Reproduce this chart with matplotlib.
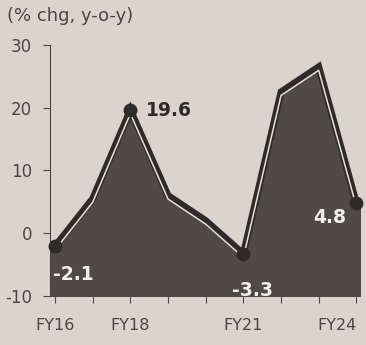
import numpy as np
import matplotlib.pyplot as plt
from matplotlib.transforms import offset_copy

plt.rcParams["axes.unicode_minus"] = False

# yearly growth, % chg y-o-y
years = ["FY16", "FY17", "FY18", "FY19", "FY20", "FY21", "FY22", "FY23", "FY24"]
growth = [-2.1, 5.5, 19.6, 6.0, 2.0, -3.3, 22.5, 26.5, 4.8]
tick_labels = ["FY16", "", "FY18", "", "", "FY21", "", "", "FY24"]

paper = "#ddd3cd"
fill_col = "#4f4a49"
line_col = "#2f2b2b"
txt = "#4a4646"

x = np.arange(len(years))
x0, x1 = -0.13, 8.1

fig = plt.figure(figsize=(3.66, 3.45), dpi=100, facecolor=paper)
ax = fig.add_axes([0.137, 0.142, 0.847, 0.728], facecolor=paper)

# fill runs to the edges of the plot area
xf = np.r_[x0, x, x1]
yf = np.r_[growth[0], growth, growth[-1]]
ax.fill_between(xf, yf, -10, color=fill_col, zorder=1)
ax.plot(x, growth, color=line_col, lw=5, solid_joinstyle="miter", zorder=2)
# thin light line sitting just under the dark outline
tr = offset_copy(ax.transData, fig=fig, x=0, y=-3.5, units="dots")
ax.plot(x, growth, color="#e8e2dd", lw=1.1, transform=tr, zorder=3)

# marked points
for i in [0, 2, 5, 8]:
    ax.plot(x[i], growth[i], "o", color=line_col, ms=9, zorder=4, clip_on=False)

lab = dict(fontsize=13.5, fontweight="bold", va="center")
ax.text(x[2] + 0.42, growth[2], "19.6", color=line_col, ha="left", **lab)
ax.text(x[0] - 0.05, growth[0] - 4.5, "-2.1", color="#f2eeea", ha="left", **lab)
ax.text(x[5] - 0.3, growth[5] - 5.8, "-3.3", color="#f2eeea", ha="left", **lab)
ax.text(x[8] - 0.27, growth[8] - 2.3, "4.8", color="#f2eeea", ha="right", **lab)

ax.set_xlim(x0, x1)
ax.set_ylim(-10, 30)
ax.set_yticks([-10, 0, 10, 20, 30])
ax.set_xticks(x)
ax.set_xticklabels(tick_labels)

for s in ["top", "right", "bottom"]:
    ax.spines[s].set_visible(False)
ax.spines["left"].set_color(txt)
ax.spines["left"].set_linewidth(0.8)
ax.tick_params(axis="y", colors=txt, labelsize=12, length=5, width=0.8, pad=8)
ax.tick_params(axis="x", colors=txt, labelsize=11.5, length=5, width=0.8, pad=11)
ax.get_xticklabels()[-1].set_ha("right")

fig.text(0.02, 0.953, "(% chg, y-o-y)", color=txt, fontsize=13, ha="left", va="center")

fig.savefig("out.png", dpi=100, facecolor=paper)
